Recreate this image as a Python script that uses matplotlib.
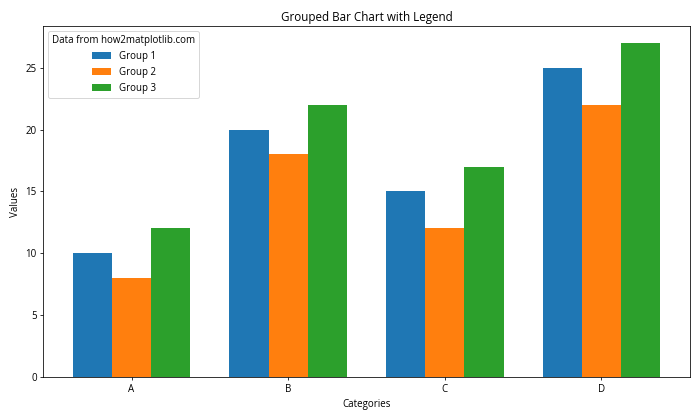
import matplotlib
matplotlib.use("Agg")
import matplotlib.pyplot as plt
import numpy as np

plt.rcParams['font.family'] = ['Open Sans', 'DejaVu Sans']

categories = ['A', 'B', 'C', 'D']
group1 = [10, 20, 15, 25]
group2 = [8, 18, 12, 22]
group3 = [12, 22, 17, 27]
series_names = ['Group 1', 'Group 2', 'Group 3']

fig, ax = plt.subplots(figsize=(10, 6), dpi=70)
x = np.arange(len(categories))
w = 0.25
ax.bar(x - w, group1, w, label=series_names[0])
ax.bar(x, group2, w, label=series_names[1])
ax.bar(x + w, group3, w, label=series_names[2])
ax.set_xticks(x)
ax.set_xticklabels(categories)
ax.set_xlabel('Categories')
ax.set_ylabel('Values')
ax.set_title('Grouped Bar Chart with Legend')
ax.legend(title='Data from how2matplotlib.com', loc='upper left')
fig.tight_layout()
fig.savefig('out.png', dpi=70)
